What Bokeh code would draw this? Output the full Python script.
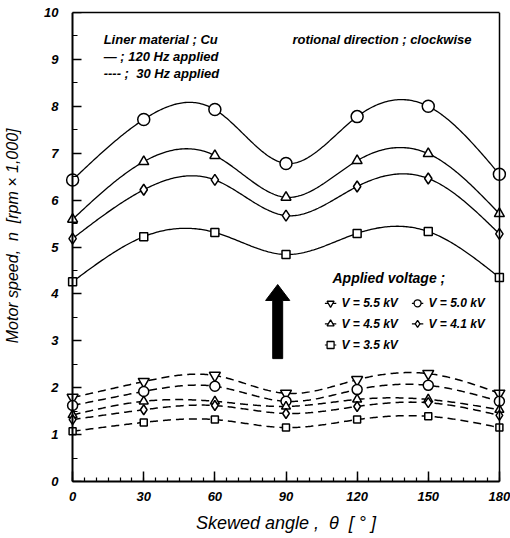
import numpy as np
from bokeh.plotting import figure
from bokeh.models import Range1d, FixedTicker, LinearAxis, Label
from bokeh.embed import file_html
from bokeh.resources import INLINE

# Skewed angle (deg)
angles = [0, 30, 60, 90, 120, 150, 180]

# Motor speed (x1000 rpm), 120 Hz supply
hz120_v50 = [6.43, 7.72, 7.93, 6.78, 7.78, 8.00, 6.55]
hz120_v45 = [5.59, 6.82, 6.95, 6.06, 6.84, 6.99, 5.71]
hz120_v41 = [5.18, 6.22, 6.43, 5.67, 6.29, 6.46, 5.28]
hz120_v35 = [4.26, 5.22, 5.31, 4.84, 5.29, 5.33, 4.35]

# Motor speed (x1000 rpm), 30 Hz supply
hz30_v55 = [1.79, 2.13, 2.26, 1.88, 2.17, 2.30, 1.88]
hz30_v50 = [1.62, 1.92, 2.03, 1.71, 1.96, 2.05, 1.71]
hz30_v45 = [1.42, 1.71, 1.71, 1.60, 1.75, 1.75, 1.53]
hz30_v41 = [1.32, 1.53, 1.62, 1.45, 1.60, 1.68, 1.41]
hz30_v35 = [1.07, 1.26, 1.32, 1.15, 1.32, 1.39, 1.15]

x_ticks = [0, 30, 60, 90, 120, 150, 180]
y_ticks = list(range(0, 11))

FONT = "Liberation Sans"
NB = "\u00a0"


def natural_spline(x, y, n=300):
    """Smooth natural cubic spline through the measured points."""
    x = np.asarray(x, float)
    y = np.asarray(y, float)
    m = len(x)
    h = np.diff(x)
    A = np.zeros((m, m))
    r = np.zeros(m)
    A[0, 0] = A[-1, -1] = 1.0
    for i in range(1, m - 1):
        A[i, i - 1] = h[i - 1]
        A[i, i] = 2 * (h[i - 1] + h[i])
        A[i, i + 1] = h[i]
        r[i] = 3 * ((y[i + 1] - y[i]) / h[i] - (y[i] - y[i - 1]) / h[i - 1])
    c = np.linalg.solve(A, r)
    b = (y[1:] - y[:-1]) / h - h * (2 * c[:-1] + c[1:]) / 3
    d = (c[1:] - c[:-1]) / (3 * h)
    xs = np.linspace(x[0], x[-1], n)
    idx = np.clip(np.searchsorted(x, xs, side="right") - 1, 0, m - 2)
    dx = xs - x[idx]
    ys = y[idx] + b[idx] * dx + c[idx] * dx ** 2 + d[idx] * dx ** 3
    return xs, ys


p = figure(width=510, height=538, output_backend="svg", toolbar_location=None,
           x_range=Range1d(-3, 183), y_range=Range1d(0, 10),
           x_axis_type=None, y_axis_type=None,
           min_border_left=65, min_border_right=4,
           min_border_top=12, min_border_bottom=57)
p.outline_line_color = None
p.xgrid.visible = False
p.ygrid.visible = False
p.background_fill_color = "white"
p.border_fill_color = "white"


def style_axis(ax):
    ax.axis_line_color = "black"
    ax.axis_line_width = 2
    ax.major_tick_line_color = "black"
    ax.minor_tick_line_color = "black"
    ax.major_tick_line_width = 1.5
    ax.minor_tick_line_width = 1.2
    ax.major_tick_out = 0
    ax.minor_tick_out = 0
    ax.major_label_text_font = FONT
    ax.major_label_text_font_style = "bold italic"
    ax.major_label_text_font_size = "13px"
    ax.major_label_text_color = "black"
    ax.axis_label_text_font = FONT
    ax.axis_label_text_font_style = "italic"
    ax.axis_label_text_color = "black"


xaxis = LinearAxis(ticker=FixedTicker(ticks=x_ticks,
                                      minor_ticks=list(range(0, 181, 5))))
style_axis(xaxis)
xaxis.bounds = (0, 180)
xaxis.major_tick_in = 10
xaxis.minor_tick_in = 4
xaxis.major_label_standoff = 10
xaxis.axis_label = f"Skewed angle{NB},{NB}{NB}\u03b8{NB}{NB}[{NB}\u00b0{NB}]"
xaxis.axis_label_text_font_size = "18px"
xaxis.axis_label_standoff = 9
p.add_layout(xaxis, "below")

# y axis line and ticks sit at angle 0
yaxis = LinearAxis(ticker=FixedTicker(ticks=y_ticks,
                                      minor_ticks=list(np.arange(0, 10.01, 0.5))))
style_axis(yaxis)
yaxis.fixed_location = 0
yaxis.bounds = (0, 10)
yaxis.major_tick_in = 9
yaxis.minor_tick_in = 5
yaxis.major_label_text_alpha = 0
p.add_layout(yaxis, "left")

# y tick labels and title, laid out in the left border
ylabels = LinearAxis(ticker=FixedTicker(ticks=y_ticks))
style_axis(ylabels)
ylabels.axis_line_color = None
ylabels.major_tick_line_color = None
ylabels.minor_tick_line_color = None
ylabels.major_tick_in = 0
ylabels.minor_tick_in = 0
ylabels.major_label_standoff = 7
ylabels.axis_label = NB * 5 + f"Motor speed,{NB}{NB}n{NB}{NB}[rpm{NB}\u00d7{NB}1,000]"
ylabels.axis_label_text_font_size = "16px"
ylabels.axis_label_standoff = 20
p.add_layout(ylabels, "left")

# top and right frame edges
top = LinearAxis(ticker=FixedTicker(ticks=[]), bounds=(0, 180),
                 axis_line_width=1.5, major_label_text_font_size="0px")
top.major_tick_in = 0
top.major_tick_out = 0
top.minor_tick_in = 0
top.minor_tick_out = 0
p.add_layout(top, "above")
right = LinearAxis(ticker=FixedTicker(ticks=[]), bounds=(0, 10),
                   axis_line_width=1.5, major_label_text_font_size="0px")
right.fixed_location = 180
right.major_tick_in = 0
right.major_tick_out = 0
right.minor_tick_in = 0
right.minor_tick_out = 0
p.add_layout(right, "right")

# 120 Hz: solid curves
solid = [(hz120_v50, "circle", 12), (hz120_v45, "triangle", 10),
         (hz120_v41, "diamond", 11), (hz120_v35, "square", 8)]
for vals, marker, size in solid:
    xs, ys = natural_spline(angles, vals)
    p.line(xs, ys, line_color="black", line_width=1.3)
    p.scatter(angles, vals, marker=marker, size=size, fill_color="white",
              line_color="black", line_width=1.5)

# 30 Hz: dashed curves
dashed = [(hz30_v55, "inverted_triangle", 11), (hz30_v50, "circle", 10),
          (hz30_v45, "triangle", 9), (hz30_v41, "diamond", 10),
          (hz30_v35, "square", 7)]
for vals, marker, size in dashed:
    xs, ys = natural_spline(angles, vals)
    p.line(xs, ys, line_color="black", line_width=1.5, line_dash="8 5")
    p.scatter(angles, vals, marker=marker, size=size, fill_color="white",
              line_color="black", line_width=1.5)

# upward arrow between the two groups
ax0, tip, base, bottom = 86.5, 4.20, 3.86, 2.62
shaft, head = 2.1, 5.1
p.patch([ax0 - shaft, ax0 - shaft, ax0 - head, ax0, ax0 + head, ax0 + shaft, ax0 + shaft],
        [bottom, base, base, tip, base, base, bottom],
        fill_color="black", line_color="black", line_width=1)


def add_text(x, y, text, size="13px", style="bold italic"):
    p.add_layout(Label(x=x, y=y, text=text, text_font=FONT,
                       text_font_style=style, text_font_size=size,
                       text_baseline="middle", text_align="left",
                       text_color="black"))


add_text(13.1, 9.42, "Liner material ; Cu")
add_text(13.1, 9.06, f"\u2014{NB};{NB}120 Hz applied")
add_text(13.1, 8.70, f"----{NB};{NB}{NB}30 Hz applied")
add_text(92.7, 9.42, "rotional direction ; clockwise")
add_text(109.6, 4.33, "Applied voltage ;", size="14px")

# voltage key
key_labels = ["V = 5.5 kV", "V = 5.0 kV", "V = 4.5 kV", "V = 4.1 kV", "V = 3.5 kV"]
key_markers = ["inverted_triangle", "circle", "triangle", "diamond", "square"]
key_x = [108.8, 145.5, 108.8, 145.5, 108.8]
key_y = [3.80, 3.80, 3.36, 3.36, 2.91]
for lab, mk, kx, ky in zip(key_labels, key_markers, key_x, key_y):
    p.segment(x0=[kx - 2.4], y0=[ky], x1=[kx + 2.4], y1=[ky],
              line_color="black", line_width=1.2)
    p.scatter([kx], [ky], marker=mk, size=7, fill_color="white",
              line_color="black", line_width=1.3)
    add_text(kx + 4.6, ky, lab, size="12px")

open("out.html", "w").write(file_html(p, INLINE))
